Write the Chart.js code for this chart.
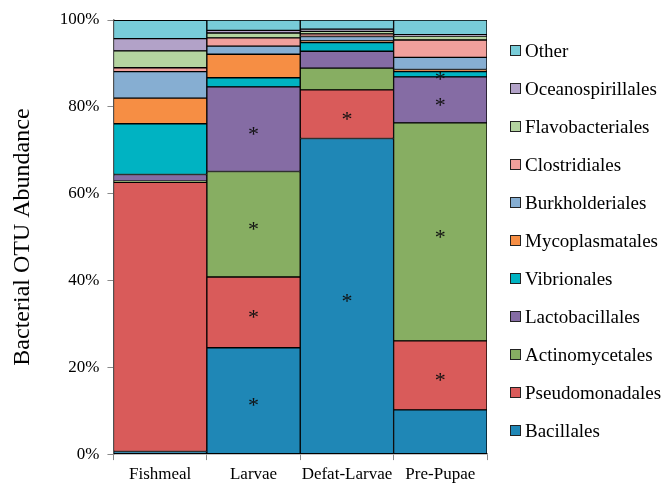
<!DOCTYPE html>
<html>
<head>
<meta charset="utf-8">
<script src="https://cdn.jsdelivr.net/npm/chart.js@4.4.0/dist/chart.umd.min.js"></script>
<style>
  html, body { margin: 0; padding: 0; background: #fff; }
</style>
</head>
<body>
<canvas id="grafica" width="665" height="484"></canvas>
<script>
// ---------- Dades ----------
const categories = ['Fishmeal', 'Larvae', 'Defat-Larvae', 'Pre-Pupae'];
const yTicks = [0, 20, 40, 60, 80, 100];

const bacillales        = [0.6, 24.5, 72.7, 10.2];
const pseudomonadales   = [62.0, 16.3, 11.2, 15.9];
const actinomycetales   = [0.3, 24.3, 5.0, 50.2];
const lactobacillales   = [1.5, 19.5, 3.9, 10.6];
const vibrionales       = [11.7, 2.1, 2.0, 1.2];
const mycoplasmatales   = [5.9, 5.4, 0.4, 0.5];
const burkholderiales   = [6.1, 1.9, 1.0, 2.8];
const clostridiales     = [0.9, 1.9, 0.6, 4.0];
const flavobacteriales  = [3.9, 1.1, 0.6, 0.9];
const oceanospirillales = [2.8, 0.6, 0.5, 0.3];
const other             = [4.2, 2.4, 2.1, 3.4];

const seriesNames = ['Bacillales', 'Pseudomonadales', 'Actinomycetales', 'Lactobacillales',
  'Vibrionales', 'Mycoplasmatales', 'Burkholderiales', 'Clostridiales',
  'Flavobacteriales', 'Oceanospirillales', 'Other'];
const seriesValues = [bacillales, pseudomonadales, actinomycetales, lactobacillales,
  vibrionales, mycoplasmatales, burkholderiales, clostridiales,
  flavobacteriales, oceanospirillales, other];
const seriesColors = ['#1F87B6', '#D95B5A', '#87AE62', '#856CA4', '#00B3C2', '#F68E44',
  '#86AED2', '#F1A09C', '#B4D4A0', '#B2A2C8', '#78CCD8'];

// asteriscs (diferències significatives), per sèrie i categoria
const significance = [
  [0, 1, 1, 0],
  [0, 1, 1, 1],
  [0, 1, 0, 1],
  [0, 1, 0, 1],
  [0, 0, 0, 1],
  [0, 0, 0, 0],
  [0, 0, 0, 0],
  [0, 0, 0, 0],
  [0, 0, 0, 0],
  [0, 0, 0, 0],
  [0, 0, 0, 0]
];

const serif = "'Liberation Serif', 'Times New Roman', serif";
const axisGrey = '#8a8a8a';

// ---------- Asteriscs sobre els segments ----------
const asteriskPlugin = {
  id: 'asterisks',
  afterDatasetsDraw(chart) {
    const ctx = chart.ctx;
    ctx.save();
    ctx.fillStyle = '#111';
    ctx.font = '22px ' + serif;
    ctx.textAlign = 'center';
    ctx.textBaseline = 'middle';
    chart.data.datasets.forEach((ds, i) => {
      chart.getDatasetMeta(i).data.forEach((bar, j) => {
        if (significance[i][j]) {
          const y = (bar.y + bar.base) / 2;
          ctx.fillText('*', bar.x, y + 6);
        }
      });
    });
    ctx.restore();
  }
};

// ---------- Llegenda a la dreta ----------
const legendPlugin = {
  id: 'sideLegend',
  afterDraw(chart) {
    const ctx = chart.ctx;
    const items = chart.data.datasets.slice().reverse();
    ctx.save();
    ctx.font = '19px ' + serif;
    ctx.textBaseline = 'middle';
    ctx.textAlign = 'left';
    items.forEach((ds, k) => {
      const cy = 51 + k * 38;
      ctx.fillStyle = ds.backgroundColor;
      ctx.fillRect(510.5, cy - 5.5, 10, 10);
      ctx.strokeStyle = '#222';
      ctx.lineWidth = 1;
      ctx.strokeRect(510.5, cy - 5.5, 10, 10);
      ctx.fillStyle = '#000';
      ctx.fillText(ds.label, 525, cy + 1);
    });
    ctx.restore();
  }
};

const datasets = seriesNames.map((name, i) => ({
  label: name,
  data: seriesValues[i],
  backgroundColor: seriesColors[i],
  borderColor: '#000',
  borderWidth: 1,
  borderSkipped: false,
  barPercentage: 1,
  categoryPercentage: 1
}));

new Chart(document.getElementById('grafica'), {
  type: 'bar',
  data: { labels: categories, datasets: datasets },
  plugins: [asteriskPlugin, legendPlugin],
  options: {
    responsive: false,
    animation: false,
    layout: { padding: { left: 8, top: 20, right: 178, bottom: -4 } },
    plugins: {
      legend: { display: false },
      tooltip: { enabled: false }
    },
    scales: {
      x: {
        stacked: true,
        grid: { display: true, drawOnChartArea: false, color: axisGrey, tickLength: 6, offset: true },
        border: { color: axisGrey, width: 1.5 },
        ticks: {
          color: '#000',
          padding: 8,
          maxRotation: 0,
          minRotation: 0,
          autoSkip: false,
          font: { family: serif, size: 17, lineHeight: 0.7 }
        }
      },
      y: {
        stacked: true,
        min: 0,
        max: 100,
        afterBuildTicks: axis => { axis.ticks = yTicks.map(v => ({ value: v })); },
        grid: { display: true, drawOnChartArea: false, color: axisGrey, tickLength: 6 },
        border: { color: axisGrey, width: 1.5 },
        ticks: {
          color: '#000',
          padding: 8,
          font: { family: serif, size: 17 },
          callback: v => v + '%'
        },
        title: {
          display: true,
          text: 'Bacterial OTU Abundance',
          color: '#000',
          font: { family: serif, size: 24 },
          padding: { top: 0, bottom: 15 }
        }
      }
    }
  }
});
</script>
</body>
</html>
